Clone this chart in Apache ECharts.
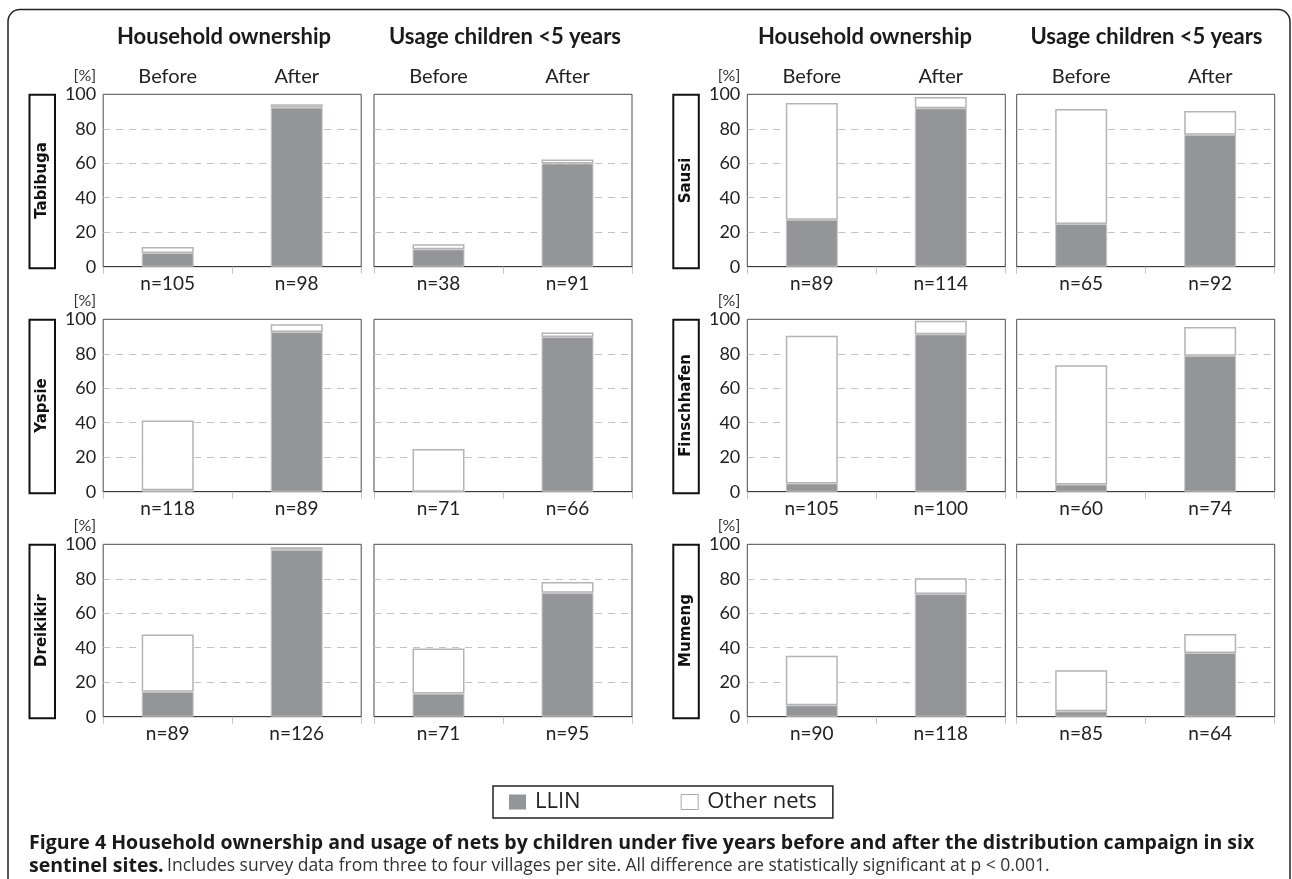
<!DOCTYPE html>
<html>
<head>
<meta charset="utf-8">
<script src="https://cdn.jsdelivr.net/npm/echarts@6/dist/echarts.min.js"></script>
<style>
html,body{margin:0;padding:0;background:#fff;}
#chart{width:1292px;height:879px;}
</style>
</head>
<body>
<div id="chart"></div>
<script>
// ---------- data ----------
const sites = ['Tabibuga', 'Yapsie', 'Dreikikir', 'Sausi', 'Finschhafen', 'Mumeng'];
const periods = ['Before', 'After'];
const panelTitles = ['Household ownership', 'Usage children <5 years'];
const seriesNames = ['LLIN', 'Other nets'];

// Household ownership (%)
const ownLlinBefore  = [8.0, 0.8, 14.4, 27.3, 4.8, 6.6];
const ownOtherBefore = [3.4, 40.5, 33.3, 67.7, 85.7, 28.8];
const ownLlinAfter   = [92.3, 92.6, 96.8, 91.9, 91.3, 71.2];
const ownOtherAfter  = [1.9, 4.5, 1.5, 6.6, 7.9, 9.1];
const ownNBefore = [105, 118, 89, 89, 105, 90];
const ownNAfter  = [98, 89, 126, 114, 100, 118];

// Usage children <5 years (%)
const useLlinBefore  = [10.1, 0, 13.4, 24.8, 4.2, 3.1];
const useOtherBefore = [2.9, 24.8, 26.1, 66.7, 69.1, 23.9];
const useLlinAfter   = [59.9, 89.7, 71.9, 76.6, 78.9, 37.0];
const useOtherAfter  = [2.3, 2.7, 6.2, 13.7, 16.6, 10.9];
const useNBefore = [38, 71, 71, 65, 60, 85];
const useNAfter  = [91, 66, 95, 92, 74, 64];

const yTicks = [0, 20, 40, 60, 80, 100];

// ---------- layout / style ----------
const FONT = "Lato, 'Open Sans', sans-serif";
const colLeft = [103.2, 374, 747.3, 1016.7];
const colWidth = 258;
const rowTop = [94.3, 319.3, 544.3];
const rowHeight = 172.4;
const boxLeft = [29.5, 673.3];
const boxWidth = 25.5;
const LLIN_COLOR = '#939598';

const grids = [], xAxes = [], yAxes = [], series = [], graphics = [];

const measures = [
  {llinB: ownLlinBefore, othB: ownOtherBefore, llinA: ownLlinAfter, othA: ownOtherAfter, nB: ownNBefore, nA: ownNAfter},
  {llinB: useLlinBefore, othB: useOtherBefore, llinA: useLlinAfter, othA: useOtherAfter, nB: useNBefore, nA: useNAfter}
];

sites.forEach((site, s) => {
  const g = Math.floor(s / 3), r = s % 3;
  measures.forEach((m, mi) => {
    const col = 2 * g + mi;
    const idx = grids.length;
    grids.push({
      left: colLeft[col], top: rowTop[r], width: colWidth, height: rowHeight,
      show: true, borderColor: '#4a4a4a', borderWidth: 1, backgroundColor: 'transparent'
    });
    const bottomAxisIndex = xAxes.length;
    xAxes.push({
      gridIndex: idx, type: 'category', position: 'bottom',
      data: ['n=' + m.nB[s], 'n=' + m.nA[s]],
      axisLine: {show: true, lineStyle: {color: '#3a3a3a', width: 1}},
      axisTick: {show: true, length: 7, lineStyle: {color: '#c4c4c4'}},
      axisLabel: {margin: 8, fontSize: 19, color: '#222', fontFamily: FONT}
    });
    if (r === 0) {
      xAxes.push({
        gridIndex: idx, type: 'category', position: 'top',
        data: periods,
        axisLine: {show: false}, axisTick: {show: false},
        axisLabel: {margin: 8, fontSize: 20, color: '#222', fontFamily: FONT}
      });
    }
    yAxes.push({
      gridIndex: idx, type: 'value', min: yTicks[0], max: yTicks[yTicks.length - 1], interval: 20,
      name: mi === 0 ? '[%]' : '',
      nameLocation: 'end', nameGap: 18,
      nameTextStyle: {fontSize: 16, color: '#333', fontFamily: FONT, align: 'right', verticalAlign: 'middle', padding: [0, 7, 0, 0]},
      axisLine: {show: false}, axisTick: {show: false},
      axisLabel: {show: mi === 0, margin: 7, fontSize: 18, color: '#222', fontFamily: FONT},
      splitLine: {show: true, showMinLine: false, showMaxLine: false, lineStyle: {type: [7, 6], color: '#c2c2c2', width: 1}}
    });
    series.push({
      type: 'bar', name: seriesNames[0], xAxisIndex: bottomAxisIndex, yAxisIndex: idx,
      stack: 'st' + idx, barWidth: 52,
      data: [m.llinB[s], m.llinA[s]],
      itemStyle: {color: LLIN_COLOR, borderColor: '#c9c9c9', borderWidth: 1},
      emphasis: {disabled: true}
    });
    series.push({
      type: 'bar', name: seriesNames[1], xAxisIndex: bottomAxisIndex, yAxisIndex: idx,
      stack: 'st' + idx, barWidth: 52,
      data: [m.othB[s], m.othA[s]],
      itemStyle: {color: '#ffffff', borderColor: '#b4b4b4', borderWidth: 1.5},
      emphasis: {disabled: true}
    });
  });
  // row label box
  const bx = boxLeft[g];
  graphics.push({
    type: 'rect', shape: {x: bx, y: rowTop[r] + 0.5, width: boxWidth, height: rowHeight + 1},
    style: {fill: '#fff', stroke: '#111', lineWidth: 2}, z: 10
  });
  graphics.push({
    type: 'text', x: bx + boxWidth / 2, y: rowTop[r] + rowHeight / 2, rotation: Math.PI / 2,
    style: {text: site, font: "bold 15px 'DejaVu Sans'", fill: '#111', align: 'center', verticalAlign: 'middle'}, z: 11
  });
});

// column headers
const headerX = [[224, 505], [865, 1146.5]];
headerX.forEach(pair => {
  pair.forEach((x, i) => {
    graphics.push({
      type: 'text', x: x, y: 36.5,
      style: {text: panelTitles[i], font: "bold 22px Lato", fill: '#1a1a1a', align: 'center', verticalAlign: 'middle'}
    });
  });
});

// outer frame
graphics.push({
  type: 'rect', shape: {x: 8, y: 9.5, width: 1282, height: 900, r: 12},
  style: {fill: 'none', stroke: '#222', lineWidth: 1.5}, z: 0
});

// caption
graphics.push({
  type: 'text', x: 29, y: 843,
  style: {
    text: '{b|Figure 4 Household ownership and usage of nets by children under five years before and after the distribution campaign in six}',
    rich: {b: {font: "bold 19.5px 'Open Sans'", fill: '#1a1a1a'}},
    verticalAlign: 'middle'
  }
});
graphics.push({
  type: 'text', x: 29, y: 866,
  style: {
    text: '{b|sentinel sites.} {r|Includes survey data from three to four villages per site. All difference are statistically significant at p < 0.001.}',
    rich: {
      b: {font: "bold 19.5px 'Open Sans'", fill: '#1a1a1a'},
      r: {font: "17.5px 'Open Sans'", fill: '#333'}
    },
    verticalAlign: 'middle'
  }
});

const option = {
  animation: false,
  backgroundColor: '#ffffff',
  grid: grids,
  xAxis: xAxes,
  yAxis: yAxes,
  series: series,
  legend: {
    left: 493, top: 786,
    itemWidth: 17, itemHeight: 15, itemGap: 100,
    padding: [5, 16, 5, 16],
    borderColor: '#222', borderWidth: 1.5,
    textStyle: {fontSize: 22, color: '#222', fontFamily: "'Open Sans'", padding: [0, 0, 0, 4]},
    data: [
      {name: 'LLIN', icon: 'rect', itemStyle: {color: LLIN_COLOR, borderWidth: 0}},
      {name: 'Other nets', icon: 'rect', itemStyle: {color: '#fff', borderColor: '#aaaaaa', borderWidth: 1}}
    ],
    selectedMode: false
  },
  graphic: graphics
};

const chart = echarts.init(document.getElementById('chart'), null, {renderer: 'canvas'});
chart.setOption(option);
</script>
</body>
</html>
